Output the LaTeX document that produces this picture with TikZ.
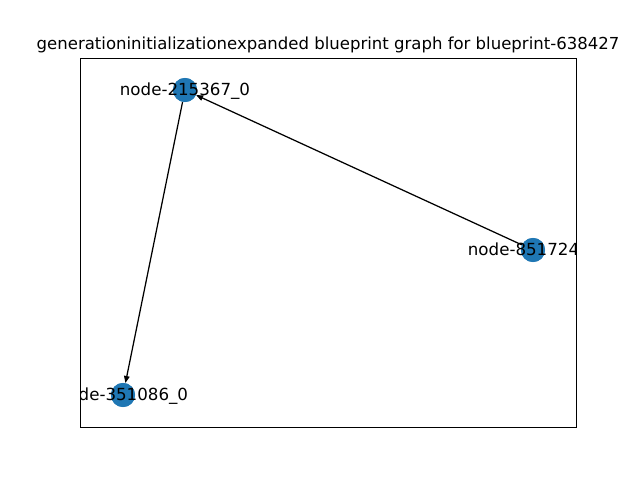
\documentclass[tikz,border=0pt]{standalone}
\usepackage{fontspec}
\setmainfont{DejaVu Sans}
\usetikzlibrary{arrows.meta}
\definecolor{mplblue}{HTML}{1F77B4}
\tikzset{
  gnode/.style={circle,fill=mplblue,draw=none,minimum size=17.3pt,inner sep=0pt},
  glabel/.style={font=\fontsize{12pt}{14pt}\selectfont,inner sep=0pt,anchor=center},
  gedge/.style={draw=black,line width=0.9pt,-{Triangle[length=5pt,width=4pt]}},
  axframe/.style={draw=black,line width=0.65pt}
}
\begin{document}
\begin{tikzpicture}[x=0.72pt,y=-0.72pt]
\useasboundingbox (0,0) rectangle (640,480);
\fill[white] (0,0) rectangle (640,480);
% title
\node[font=\fontsize{11.9pt}{14pt}\selectfont,anchor=base,inner sep=0pt] (title) at (328,49.5) {generationinitializationexpanded blueprint graph for blueprint-638427};
% nodes
\node[gnode] (a) at (185,90) {};
\node[gnode] (b) at (533,250) {};
\node[gnode] (c) at (123,395) {};
% edges
\draw[gedge] (b) -- (a);
\draw[gedge] (a) -- (c);
% nodes on top
\node[gnode] at (185,90) {};
\node[gnode] at (533,250) {};
\node[gnode] at (123,395) {};
% labels clipped to axes
\begin{scope}
\clip (80,58) rectangle (576,427);
\node[glabel] (la) at (185,91.5) {node-215367\_0};
\node[glabel] (lb) at (533,251.5) {node-851724\_0};
\node[glabel] (lc) at (123,396.5) {node-351086\_0};
\end{scope}
% axes frame
\draw[axframe] (80,58) rectangle (576,427);
\end{tikzpicture}
\end{document}
